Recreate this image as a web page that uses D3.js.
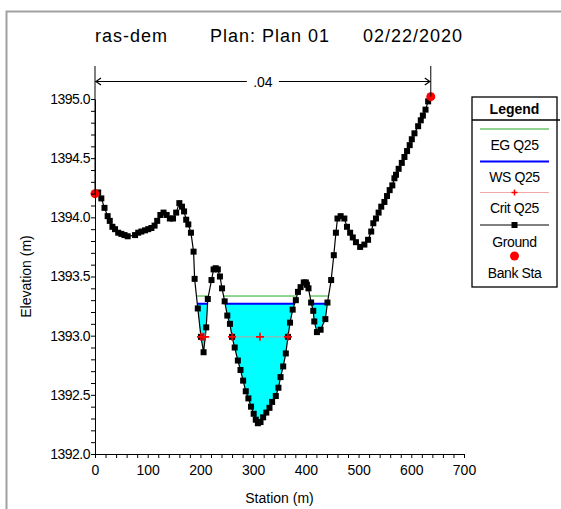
<!DOCTYPE html>
<html>
<head>
<meta charset="utf-8">
<script src="https://cdn.jsdelivr.net/npm/d3@7"></script>
<style>
  body { margin: 0; background: #ffffff; }
  svg { display: block; font-family: "Liberation Sans", Arial, sans-serif; }
</style>
</head>
<body>
<div id="chart"></div>
<script>
// Ground profile (station m, elevation m)
const groundStations = [0, 6, 12, 18, 24, 28, 33, 38, 44, 50, 56, 62, 76, 82, 88, 95, 101, 107, 113, 118,
  124, 130, 136, 142, 148, 154, 160, 165, 169, 173, 177, 182, 187, 189, 195, 201, 206, 211, 214, 221,
  225, 229, 233, 237, 241, 246, 251, 256, 260, 265, 271, 276, 281, 286, 291, 296, 301, 305, 309, 314,
  319, 325, 331, 336, 343, 348, 352, 357, 362, 366, 370, 375, 381, 385, 390, 396, 400, 402, 405, 410,
  414, 416, 421, 428, 437, 441, 448, 453, 457, 460, 466, 473, 478, 484, 489, 495, 503, 511, 518, 524,
  528, 533, 538, 543, 549, 554, 559, 564, 568, 571, 576, 582, 587, 592, 597, 601, 606, 613, 618, 622,
  627, 632, 637];
const groundElevations = [1394.20, 1394.21, 1394.16, 1394.08, 1394.01, 1393.97, 1393.92, 1393.90, 1393.87, 1393.86,
  1393.85, 1393.84, 1393.85, 1393.87, 1393.88, 1393.89, 1393.90, 1393.91, 1393.93, 1393.97,
  1394.02, 1394.04, 1394.02, 1393.99, 1393.99, 1394.04, 1394.12, 1394.09, 1394.05, 1393.98,
  1393.94, 1393.87, 1393.71, 1393.48, 1393.23, 1392.99, 1392.86, 1393.07, 1393.31, 1393.47,
  1393.56, 1393.57, 1393.56, 1393.50, 1393.40, 1393.29, 1393.17, 1393.10, 1392.99, 1392.90,
  1392.79, 1392.71, 1392.62, 1392.53, 1392.47, 1392.40, 1392.34, 1392.29, 1392.26, 1392.27,
  1392.31, 1392.35, 1392.39, 1392.44, 1392.49, 1392.56, 1392.65, 1392.74, 1392.85, 1392.99,
  1393.11, 1393.22, 1393.30, 1393.37, 1393.41, 1393.45, 1393.45, 1393.43, 1393.40, 1393.28,
  1393.21, 1393.12, 1393.03, 1393.05, 1393.14, 1393.28, 1393.47, 1393.68, 1393.87, 1393.99,
  1394.01, 1393.99, 1393.92, 1393.87, 1393.83, 1393.79, 1393.75, 1393.77, 1393.81, 1393.88,
  1393.95, 1393.99, 1394.04, 1394.09, 1394.13, 1394.18, 1394.23, 1394.27, 1394.33, 1394.36,
  1394.41, 1394.46, 1394.51, 1394.56, 1394.61, 1394.66, 1394.71, 1394.77, 1394.82, 1394.86,
  1394.91, 1394.98, 1395.02];

// Bank stations
const bankStations = [0, 637];
const bankElevations = [1394.20, 1395.02];

// Water levels for Q25
const egElevation = 1393.335;
const wsElevation = 1393.27;
const critElevation = 1392.99;

// Manning's n between the banks
const nValueLabel = ".04";

// Axis ticks
const xTicks = [0, 100, 200, 300, 400, 500, 600, 700];
const yTicks = [1392.0, 1392.5, 1393.0, 1393.5, 1394.0, 1394.5, 1395.0];

const titleParts = ["ras-dem", "Plan: Plan 01", "02/22/2020"];
const legendLabels = ["EG Q25", "WS Q25", "Crit Q25", "Ground", "Bank Sta"];

document.addEventListener("DOMContentLoaded", () => {
  const width = 561, height = 509;
  const plot = { left: 95, right: 464, top: 99, bottom: 454 };

  const ground = groundStations.map((s, i) => ({ s, e: groundElevations[i] }));

  const svg = d3.select("#chart").append("svg")
    .attr("width", width)
    .attr("height", height);

  const x = d3.scaleLinear().domain([0, 700]).range([plot.left, plot.right]);
  const y = d3.scaleLinear().domain([1392, 1395]).range([plot.bottom, plot.top]);

  // outer frame (cropped at right and bottom)
  svg.append("rect")
    .attr("x", 6.5).attr("y", 11.5)
    .attr("width", 600).attr("height", 600)
    .attr("fill", "none")
    .attr("stroke", "#a0a0a0")
    .attr("stroke-width", 2);

  // title
  const titleX = [95, 210, 363];
  svg.selectAll("text.title")
    .data(titleParts)
    .join("text")
    .attr("class", "title")
    .attr("x", (d, i) => titleX[i])
    .attr("y", 42)
    .style("font-size", "18px")
    .style("letter-spacing", "1px")
    .text(d => d);

  // clip region above the ground line
  const defs = svg.append("defs");
  const aboveGround = d3.area()
    .x(d => x(d.s))
    .y0(0)
    .y1(d => y(d.e));
  defs.append("clipPath").attr("id", "aboveGround")
    .append("path")
    .attr("d", aboveGround(ground));

  const levelGroup = svg.append("g").attr("clip-path", "url(#aboveGround)");
  const xFirst = x(ground[0].s), xLast = x(ground[ground.length - 1].s);

  // water fill: everything under WS that lies above the ground
  levelGroup.append("rect")
    .attr("x", xFirst).attr("y", y(wsElevation))
    .attr("width", xLast - xFirst).attr("height", plot.bottom - y(wsElevation))
    .attr("fill", "#00ffff");

  // EG line
  levelGroup.append("line")
    .attr("x1", xFirst).attr("x2", xLast)
    .attr("y1", y(egElevation)).attr("y2", y(egElevation))
    .attr("stroke", "#22aa22").attr("stroke-width", 1);

  // WS line
  levelGroup.append("line")
    .attr("x1", xFirst).attr("x2", xLast)
    .attr("y1", y(wsElevation)).attr("y2", y(wsElevation))
    .attr("stroke", "#0000ff").attr("stroke-width", 2);

  // Crit line
  levelGroup.append("line")
    .attr("x1", xFirst).attr("x2", xLast)
    .attr("y1", y(critElevation)).attr("y2", y(critElevation))
    .attr("stroke", "#c0a0a0").attr("stroke-width", 1);

  // Crit markers at the ends and middle of each wet stretch
  const critMarks = [];
  for (let i = 1; i < ground.length; i++) {
    const a = ground[i - 1], b = ground[i];
    const wetA = a.e < critElevation, wetB = b.e < critElevation;
    if (wetA !== wetB) {
      const t = (critElevation - a.e) / (b.e - a.e);
      critMarks.push(a.s + t * (b.s - a.s));
    }
  }
  const critAll = [];
  for (let i = 0; i + 1 < critMarks.length; i += 2) {
    critAll.push(critMarks[i], (critMarks[i] + critMarks[i + 1]) / 2, critMarks[i + 1]);
  }

  // Ground line and square markers
  const groundLine = d3.line().x(d => x(d.s)).y(d => y(d.e));
  svg.append("path")
    .attr("d", groundLine(ground))
    .attr("fill", "none")
    .attr("stroke", "#000")
    .attr("stroke-width", 1.2);

  svg.selectAll("rect.gpt")
    .data(ground)
    .join("rect")
    .attr("class", "gpt")
    .attr("x", d => x(d.s) - 3)
    .attr("y", d => y(d.e) - 3)
    .attr("width", 6)
    .attr("height", 6)
    .attr("fill", "#000");

  svg.selectAll("path.crit")
    .data(critAll)
    .join("path")
    .attr("class", "crit")
    .attr("d", d => `M${x(d) - 4},${y(critElevation)}h8M${x(d)},${y(critElevation) - 4}v8`)
    .attr("stroke", "#ff0000")
    .attr("stroke-width", 1.6);

  // Bank stations
  svg.selectAll("circle.bank")
    .data(bankStations)
    .join("circle")
    .attr("class", "bank")
    .attr("cx", d => x(d))
    .attr("cy", (d, i) => y(bankElevations[i]))
    .attr("r", 4.5)
    .attr("fill", "#ff0000");

  // Manning's n bracket
  const nTop = 66, nY = 81.5;
  bankStations.forEach((s, i) => {
    svg.append("line")
      .attr("x1", x(s)).attr("x2", x(s))
      .attr("y1", nTop).attr("y2", y(bankElevations[i]))
      .attr("stroke", "#000");
  });
  const nMid = (x(bankStations[0]) + x(bankStations[1])) / 2;
  svg.append("line")
    .attr("x1", x(bankStations[0])).attr("x2", nMid - 16)
    .attr("y1", nY).attr("y2", nY).attr("stroke", "#000");
  svg.append("line")
    .attr("x1", nMid + 16).attr("x2", x(bankStations[1]))
    .attr("y1", nY).attr("y2", nY).attr("stroke", "#000");
  const xa = x(bankStations[0]), xb = x(bankStations[1]);
  svg.append("path")
    .attr("d", `M${xa + 6},${nY - 3.5}L${xa + 1},${nY}L${xa + 6},${nY + 3.5}M${xb - 6},${nY - 3.5}L${xb - 1},${nY}L${xb - 6},${nY + 3.5}`)
    .attr("fill", "none").attr("stroke", "#000").attr("stroke-width", 1.2);
  svg.append("text")
    .attr("x", nMid).attr("y", nY + 5)
    .attr("text-anchor", "middle")
    .style("font-size", "14px")
    .text(nValueLabel);

  // Axes
  const xAxis = d3.axisBottom(x)
    .tickValues(d3.range(0, 701, 20))
    .tickSize(4)
    .tickSizeOuter(0)
    .tickFormat(d => xTicks.includes(d) ? d : "");
  const gx = svg.append("g")
    .attr("transform", `translate(0,${plot.bottom})`)
    .call(xAxis);

  const yAxis = d3.axisLeft(y)
    .tickValues(d3.range(13920, 13951, 1).map(v => v / 10))
    .tickSize(4)
    .tickSizeOuter(0)
    .tickFormat(d => yTicks.some(t => Math.abs(t - d) < 1e-6) ? d3.format(".1f")(d) : "");
  const gy = svg.append("g")
    .attr("transform", `translate(${plot.left},0)`)
    .call(yAxis);

  [gx, gy].forEach(g => {
    g.selectAll("text")
      .style("font-size", "14px")
      .style("font-family", "'Liberation Sans', Arial, sans-serif")
      .attr("fill", "#000");
    g.selectAll("line, path").attr("stroke", "#000");
  });
  gx.selectAll("text").attr("dy", "1.1em").attr("y", 6);
  gy.selectAll("text").attr("x", -5).style("letter-spacing", "-0.5px");

  svg.append("text")
    .attr("x", (plot.left + plot.right) / 2)
    .attr("y", 503)
    .attr("text-anchor", "middle")
    .style("font-size", "14px")
    .text("Station (m)");
  svg.append("text")
    .attr("transform", `translate(31,${(plot.top + plot.bottom) / 2}) rotate(-90)`)
    .attr("text-anchor", "middle")
    .style("font-size", "14px")
    .text("Elevation (m)");

  // Legend
  const lg = svg.append("g");
  lg.append("rect")
    .attr("x", 472).attr("y", 97)
    .attr("width", 85).attr("height", 190)
    .attr("fill", "#fff").attr("stroke", "#000").attr("stroke-width", 1.3);
  lg.append("line")
    .attr("x1", 472).attr("x2", 560).attr("y1", 120).attr("y2", 120)
    .attr("stroke", "#000").attr("stroke-width", 1.3);
  lg.append("text")
    .attr("x", 514.5).attr("y", 114)
    .attr("text-anchor", "middle")
    .style("font-size", "14px").style("font-weight", "bold")
    .text("Legend");

  const cx = 514.5, lx1 = 480, lx2 = 549;
  lg.append("line").attr("x1", lx1).attr("x2", lx2).attr("y1", 129).attr("y2", 129)
    .attr("stroke", "#22aa22");
  lg.append("line").attr("x1", lx1).attr("x2", lx2).attr("y1", 161.5).attr("y2", 161.5)
    .attr("stroke", "#0000ff").attr("stroke-width", 2);
  lg.append("line").attr("x1", lx1).attr("x2", lx2).attr("y1", 192.5).attr("y2", 192.5)
    .attr("stroke", "#f0a8a8");
  lg.append("path")
    .attr("d", `M${cx - 3},192.5h6M${cx},189.5v6`)
    .attr("stroke", "#ff0000").attr("stroke-width", 1.5);
  lg.append("line").attr("x1", lx1).attr("x2", lx2).attr("y1", 225).attr("y2", 225)
    .attr("stroke", "#000");
  lg.append("rect").attr("x", cx - 3).attr("y", 222).attr("width", 6).attr("height", 6)
    .attr("fill", "#000");
  lg.append("circle").attr("cx", cx).attr("cy", 256).attr("r", 4.5).attr("fill", "#ff0000");

  const legendY = [150, 182, 213, 247, 278];
  lg.selectAll("text.item")
    .data(legendLabels)
    .join("text")
    .attr("class", "item")
    .attr("x", cx)
    .attr("y", (d, i) => legendY[i])
    .attr("text-anchor", "middle")
    .style("font-size", "14px")
    .style("letter-spacing", "-0.4px")
    .text(d => d);
});
</script>
</body>
</html>
